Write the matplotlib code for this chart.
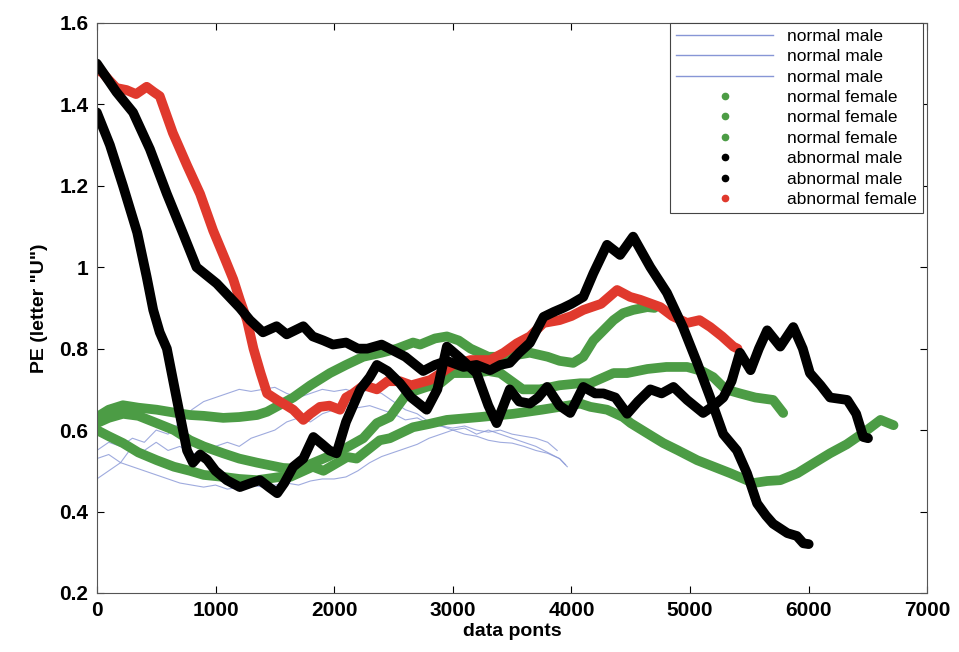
import numpy as np
import matplotlib
import matplotlib.pyplot as plt
from matplotlib.lines import Line2D
from matplotlib.ticker import FormatStrFormatter
plt.switch_backend('Agg')

plt.rcParams['font.family'] = ['Liberation Sans', 'DejaVu Sans']

# normal male (thin blue)
nm1_x = [0,100,200,300,400,500,600,700,800,900,1000,1100,1200,1300,1400,1500,1600,1700,1800,1900,2000,2100,2200,2300,2400,2500,2600,2700,2800,2900,3000,3100,3200,3300,3400,3500,3600,3700,3800,3900,3965]
nm1_y = [0.55,0.57,0.56,0.58,0.57,0.60,0.59,0.62,0.65,0.67,0.68,0.69,0.70,0.695,0.70,0.705,0.69,0.68,0.69,0.70,0.695,0.70,0.69,0.70,0.69,0.67,0.65,0.64,0.62,0.61,0.60,0.605,0.59,0.60,0.59,0.58,0.57,0.56,0.545,0.53,0.51]
nm2_x = [0,100,200,300,400,500,600,700,800,900,1000,1100,1200,1300,1400,1500,1600,1700,1800,1900,2000,2100,2200,2300,2400,2500,2600,2700,2800,2900,3000,3100,3200,3300,3400,3500,3600,3700,3800,3880]
nm2_y = [0.53,0.54,0.52,0.56,0.55,0.57,0.55,0.56,0.54,0.55,0.56,0.57,0.56,0.58,0.59,0.60,0.62,0.63,0.62,0.64,0.65,0.66,0.655,0.66,0.65,0.64,0.625,0.63,0.615,0.61,0.605,0.61,0.60,0.595,0.60,0.59,0.585,0.58,0.57,0.55]
nm3_x = [0,100,200,300,400,500,600,700,800,900,1000,1100,1200,1300,1400,1500,1600,1700,1800,1900,2000,2100,2200,2300,2400,2500,2600,2700,2800,2900,3000,3100,3200,3300,3400,3500,3600,3700,3800,3900,3950]
nm3_y = [0.48,0.50,0.52,0.51,0.50,0.49,0.48,0.47,0.465,0.46,0.465,0.455,0.46,0.465,0.46,0.465,0.47,0.465,0.475,0.48,0.48,0.485,0.50,0.52,0.535,0.545,0.555,0.565,0.58,0.59,0.60,0.59,0.585,0.575,0.57,0.568,0.56,0.55,0.543,0.53,0.515]

# normal female (green)
nf1_x = [0,100,220,350,505,650,785,900,1065,1200,1350,1435,1530,1655,1800,1965,2100,2245,2400,2530,2665,2725,2850,2950,3050,3150,3300,3455,3550,3650,3800,3900,4015,4100,4185,4270,4355,4435,4520,4640,4700]
nf1_y = [0.632,0.65,0.661,0.655,0.65,0.643,0.637,0.635,0.63,0.632,0.637,0.645,0.66,0.68,0.71,0.74,0.76,0.78,0.79,0.80,0.815,0.81,0.825,0.83,0.82,0.80,0.78,0.78,0.785,0.79,0.78,0.77,0.765,0.78,0.82,0.845,0.87,0.887,0.895,0.902,0.90]
nf2_x = [0,100,220,350,505,650,785,900,1065,1200,1350,1570,1700,1820,1950,2110,2245,2360,2470,2615,2780,2895,3000,3170,3300,3400,3590,3735,3900,4075,4160,4355,4470,4640,4800,4975,5100,5195,5300,5420,5550,5700,5785]
nf2_y = [0.617,0.63,0.64,0.635,0.617,0.60,0.575,0.56,0.543,0.53,0.52,0.507,0.505,0.519,0.535,0.558,0.58,0.617,0.632,0.69,0.706,0.715,0.74,0.74,0.745,0.74,0.70,0.70,0.71,0.715,0.715,0.74,0.74,0.75,0.755,0.755,0.745,0.73,0.70,0.69,0.68,0.674,0.642]
nf3_x = [0,100,220,350,505,650,785,900,1065,1200,1350,1545,1630,1820,1910,2110,2190,2385,2470,2665,2800,2950,3230,3510,3750,4075,4160,4300,4435,4500,4690,4775,4900,5060,5200,5340,5535,5650,5760,5905,6050,6180,6320,6460,6605,6715]
nf3_y = [0.60,0.585,0.568,0.545,0.526,0.51,0.50,0.49,0.485,0.48,0.477,0.485,0.485,0.51,0.50,0.534,0.53,0.575,0.58,0.607,0.615,0.625,0.632,0.64,0.65,0.665,0.657,0.65,0.632,0.617,0.583,0.568,0.55,0.526,0.51,0.494,0.47,0.475,0.477,0.494,0.52,0.543,0.565,0.593,0.625,0.612]

# abnormal male (black)
am1_x = [0,165,305,447,590,730,840,1010,1205,1290,1400,1515,1600,1740,1820,1910,1990,2100,2200,2280,2400,2500,2600,2750,2850,2950,3090,3200,3315,3400,3480,3560,3650,3765,3850,3930,4000,4100,4185,4300,4410,4520,4665,4805,4940,5060,5170,5280,5395,5480,5565,5640,5700,5820,5900,5955,6000]
am1_y = [1.50,1.43,1.38,1.29,1.18,1.08,1.00,0.96,0.90,0.87,0.84,0.855,0.835,0.855,0.83,0.82,0.81,0.815,0.80,0.80,0.81,0.795,0.78,0.745,0.76,0.77,0.755,0.76,0.747,0.76,0.765,0.79,0.814,0.878,0.89,0.90,0.91,0.927,0.985,1.055,1.03,1.075,1.00,0.937,0.853,0.765,0.68,0.59,0.55,0.494,0.42,0.39,0.37,0.347,0.34,0.322,0.32]
am2_x = [0,110,220,340,420,475,530,590,675,760,810,870,930,1000,1095,1205,1300,1375,1450,1520,1580,1655,1740,1825,1900,1960,2020,2100,2220,2300,2360,2450,2555,2650,2780,2870,2950,3050,3200,3300,3370,3480,3560,3650,3720,3795,3900,3990,4100,4200,4270,4370,4470,4560,4665,4760,4860,4975,5110,5200,5280,5350,5420,5510,5580,5650,5760,5870,5950,6010,6100,6180,6325,6400,6460,6500]
am2_y = [1.38,1.30,1.20,1.085,0.976,0.895,0.84,0.80,0.674,0.55,0.52,0.54,0.527,0.50,0.477,0.46,0.47,0.477,0.46,0.445,0.47,0.51,0.53,0.583,0.565,0.55,0.543,0.62,0.70,0.73,0.76,0.745,0.715,0.68,0.65,0.70,0.805,0.78,0.74,0.66,0.617,0.70,0.67,0.665,0.68,0.706,0.66,0.642,0.706,0.69,0.69,0.68,0.64,0.67,0.70,0.69,0.706,0.674,0.642,0.66,0.68,0.72,0.79,0.747,0.80,0.845,0.805,0.853,0.80,0.74,0.71,0.68,0.674,0.64,0.583,0.58]

# abnormal female (red)
af_x = [0,25,100,165,250,330,420,480,530,640,760,870,980,1080,1150,1205,1265,1320,1380,1435,1520,1600,1655,1740,1800,1880,1960,2050,2100,2160,2250,2360,2450,2555,2650,2810,2900,3000,3150,3315,3430,3540,3650,3765,3900,4000,4100,4250,4385,4495,4580,4750,4850,4975,5080,5170,5270,5365,5400]
af_y = [1.48,1.485,1.46,1.44,1.435,1.425,1.443,1.43,1.42,1.33,1.25,1.18,1.09,1.02,0.97,0.92,0.87,0.80,0.74,0.69,0.674,0.66,0.65,0.625,0.64,0.657,0.66,0.65,0.68,0.69,0.71,0.70,0.72,0.72,0.71,0.723,0.74,0.76,0.772,0.772,0.79,0.813,0.83,0.863,0.87,0.88,0.895,0.91,0.944,0.927,0.92,0.902,0.88,0.863,0.87,0.853,0.83,0.805,0.80]

labels = ['normal male', 'normal male', 'normal male',
          'normal female', 'normal female', 'normal female',
          'abnormal male', 'abnormal male', 'abnormal female']

blue = '#8796d6'
green = '#4c9c45'
red = '#e0392d'

fig = plt.figure(figsize=(9.59, 6.52), dpi=100)
ax = fig.add_axes([0.101, 0.0905, 0.866, 0.8745])

for xs, ys in [(nm1_x, nm1_y), (nm2_x, nm2_y), (nm3_x, nm3_y)]:
    ax.plot(xs, ys, color=blue, lw=0.8, alpha=0.8)
for xs, ys in [(nf1_x, nf1_y), (nf2_x, nf2_y), (nf3_x, nf3_y)]:
    ax.plot(xs, ys, color=green, lw=7, solid_joinstyle='round', solid_capstyle='round')
ax.plot(af_x, af_y, color=red, lw=7, solid_joinstyle='round', solid_capstyle='round')
for xs, ys in [(am1_x, am1_y), (am2_x, am2_y)]:
    ax.plot(xs, ys, color='black', lw=7, solid_joinstyle='round', solid_capstyle='round')

ax.set_xlim(0, 7000)
ax.set_ylim(0.2, 1.6)
ax.set_xticks(np.arange(0, 7001, 1000))
ax.set_yticks(np.arange(0.2, 1.61, 0.2))
ax.yaxis.set_major_formatter(FormatStrFormatter('%g'))
ax.tick_params(direction='in', top=True, right=True, length=5, labelsize=15, pad=6)
for t in ax.get_xticklabels() + ax.get_yticklabels():
    t.set_fontweight('bold')
for s in ax.spines.values():
    s.set_color('#555555')

ax.set_xlabel('data ponts', fontsize=14, fontweight='bold', labelpad=2)
ax.set_ylabel('PE (letter "U")', fontsize=14, fontweight='bold', labelpad=8)

handles = []
for i in range(3):
    handles.append(Line2D([], [], color=blue, lw=1))
for i in range(3):
    handles.append(Line2D([], [], color=green, ls='none', marker='.', markersize=9))
for i in range(2):
    handles.append(Line2D([], [], color='black', ls='none', marker='.', markersize=9))
handles.append(Line2D([], [], color=red, ls='none', marker='.', markersize=9))

leg = ax.legend(handles, labels, loc='upper right', bbox_to_anchor=(0.995, 1.0),
                borderaxespad=0, fontsize=12.5, labelspacing=0.3, handlelength=5.6,
                fancybox=False, framealpha=1, edgecolor='#444444', borderpad=0.35)
leg.get_frame().set_linewidth(0.8)

plt.savefig('out.png')
plt.close('all')
